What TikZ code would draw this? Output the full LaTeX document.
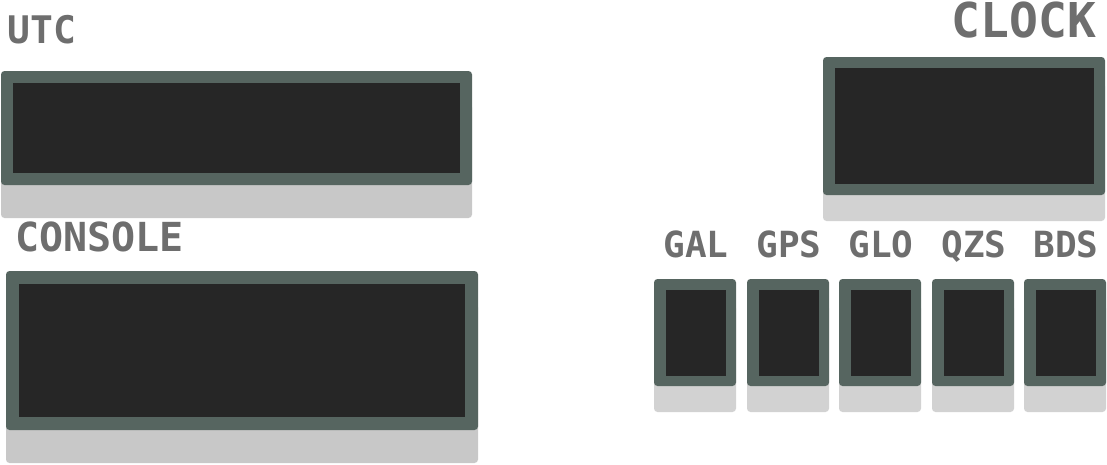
\documentclass[tikz,border=0pt]{standalone}
\usepackage{fontspec}
\newfontfamily\monof{DejaVu Sans Mono}
\definecolor{frameC}{HTML}{566560}
\definecolor{screenC}{HTML}{262626}
\definecolor{shadeA}{HTML}{C8C8C8}
\definecolor{shadeB}{HTML}{D2D2D2}
\definecolor{lblC}{HTML}{6E6E6E}
\tikzset{
  frame/.style={fill=frameC, rounded corners=3.5pt, inner sep=0pt, outer sep=0pt, anchor=north west},
  screen/.style={fill=screenC, inner sep=0pt, outer sep=0pt, anchor=north west},
  lbl/.style={text=lblC, inner sep=0pt, outer sep=0pt},
}
\begin{document}
\begin{tikzpicture}[x=1pt,y=-1pt]
\useasboundingbox (0,0) rectangle (1107,464);
% shadows
\fill[shadeA, rounded corners=3.5pt] (1,104) rectangle (472,218);
\fill[shadeA, rounded corners=3.5pt] (6,304) rectangle (478,463);
\fill[shadeB, rounded corners=3.5pt] (823,83) rectangle (1105,221);
% UTC
\node[frame, minimum width=471pt, minimum height=114pt] (utc) at (1,71) {};
\node[screen, minimum width=447pt, minimum height=90pt] (utcs) at (13,83) {};
\node[lbl, anchor=base west, font=\monof\bfseries\fontsize{38}{38}\selectfont] (utcl) at (8,43) {UTC};
% CONSOLE
\node[frame, minimum width=472pt, minimum height=159pt] (con) at (6,271) {};
\node[screen, minimum width=446pt, minimum height=133pt] (cons) at (19,284) {};
\node[lbl, anchor=base west, font=\monof\bfseries\fontsize{40}{40}\selectfont] (conl) at (15,251) {CONSOLE};
% CLOCK
\node[frame, minimum width=282pt, minimum height=138pt] (clk) at (823,57) {};
\node[screen, minimum width=259pt, minimum height=116pt] (clks) at (835,68) {};
\node[lbl, anchor=base east, font=\monof\bfseries\fontsize{48}{48}\selectfont] (clkl) at (1096,37) {CLOCK};
% GNSS
\foreach \x/\n/\t in {654/gal/GAL, 747/gps/GPS, 839/glo/GLO, 932/qzs/QZS, 1024/bds/BDS}{
  \fill[shadeB, rounded corners=3.5pt] (\x,305) rectangle ({\x+82},412);
  \node[frame, minimum width=82pt, minimum height=107pt] (\n) at (\x,279) {};
  \node[screen, minimum width=60pt, minimum height=86pt] (\n s) at ({\x+11.5},290) {};
  \node[lbl, anchor=base, font=\monof\bfseries\fontsize{36}{36}\selectfont] (\n l) at ({\x+42},257) {\t};
}
\end{tikzpicture}
\end{document}
